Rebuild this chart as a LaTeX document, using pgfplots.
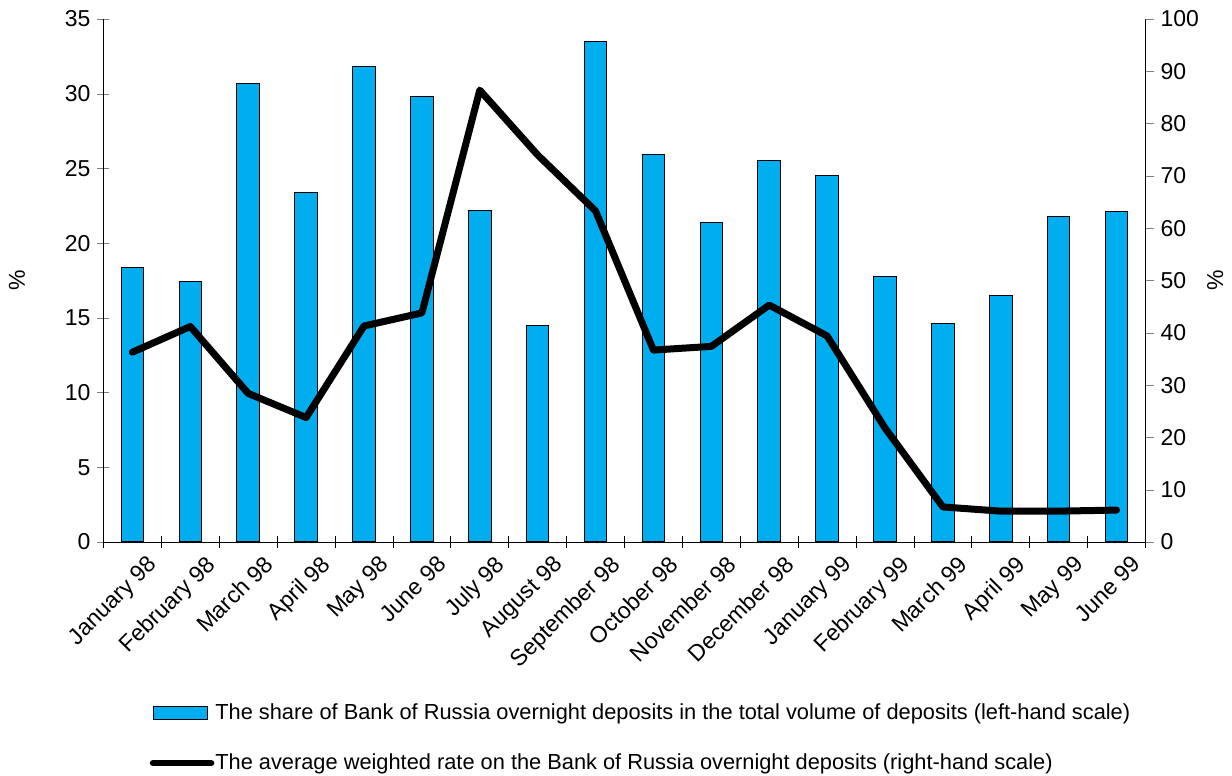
\documentclass[border=0pt]{standalone}
\usepackage{fontspec}
\setmainfont{Liberation Sans}
\usepackage{pgfplots}
\pgfplotsset{compat=1.18}
\definecolor{barcyan}{HTML}{00AEEF}

\begin{document}
\begin{tikzpicture}
\pgfplotsset{
  every axis/.append style={
    width=521pt, height=261.5pt, scale only axis,
    xmin=-0.5, xmax=17.5,
    /pgf/number format/assume math mode=true,
    tick label style={font=\fontsize{11.5}{13}\selectfont},
    label style={font=\fontsize{11.5}{13}\selectfont},
  }
}
\begin{axis}[
  name=main,
  axis x line*=bottom,
  axis y line*=left,
  ymin=0, ymax=35,
  ytick={0,5,...,35},
  tick align=center,
  major tick length=6pt,
  xtick={0,...,17},
  minor xtick={-0.5,0.5,...,17.5},
  minor tick length=6pt,
  minor tick style={black, line width=0.4pt},
  major x tick style={draw=none},
  xticklabels={January 98,February 98,March 98,April 98,May 98,June 98,July 98,August 98,September 98,October 98,November 98,December 98,January 99,February 99,March 99,April 99,May 99,June 99},
  x tick label style={rotate=45, anchor=north east, inner sep=1pt, xshift=4pt, yshift=-6pt},
  ylabel={\%},
  ylabel style={at={(rel axis cs:-0.083,0.5)}, anchor=center},
]
\addplot[ybar, bar width=11.3pt, fill=barcyan, draw=black, line width=0.5pt]
  coordinates {(0,18.35)(1,17.4)(2,30.7)(3,23.4)(4,31.8)(5,29.8)(6,22.2)(7,14.5)(8,33.5)(9,25.9)(10,21.4)(11,25.5)(12,24.5)(13,17.8)(14,14.6)(15,16.5)(16,21.8)(17,22.1)};
\end{axis}
\begin{axis}[
  axis x line=none,
  axis y line*=right,
  ymin=0, ymax=100,
  ytick={0,10,...,100},
  tick align=outside,
  major tick length=4pt,
  ylabel={\%},
  ylabel style={at={(rel axis cs:1.067,0.5)}, anchor=center},
  legend cell align=left,
  legend style={draw=none, fill=none, at={(rel axis cs:0.044,-0.307)}, anchor=north west,
    font=\fontsize{10.9}{12}\selectfont, row sep=14.5pt, inner sep=0pt,
    nodes={inner sep=0.5pt}},
]
\addlegendimage{legend image code/.code={\draw[fill=barcyan, draw=black, line width=0.5pt] (0pt,-3.2pt) rectangle (27pt,3.2pt);}}
\addlegendentry{The share of Bank of Russia overnight deposits in the total volume of deposits (left-hand scale)}
\addplot[black, line width=3.5pt, line join=round, line cap=round, mark=none,
  legend image code/.code={\draw[black, line width=3.3pt, line cap=round] (0pt,0pt) -- (29pt,0pt);}]
  coordinates {(0,36.3)(1,41.2)(2,28.4)(3,23.8)(4,41.3)(5,43.8)(6,86.4)(7,74.0)(8,63.3)(9,36.7)(10,37.4)(11,45.3)(12,39.4)(13,21.8)(14,6.7)(15,5.9)(16,5.9)(17,6.1)};
\addlegendentry{The average weighted rate on the Bank of Russia overnight deposits (right-hand scale)}
\end{axis}
\pgfresetboundingbox
\path ([xshift=-51.75pt, yshift=-117pt]main.south west) rectangle ++(616pt,388pt);
\end{tikzpicture}
\end{document}
